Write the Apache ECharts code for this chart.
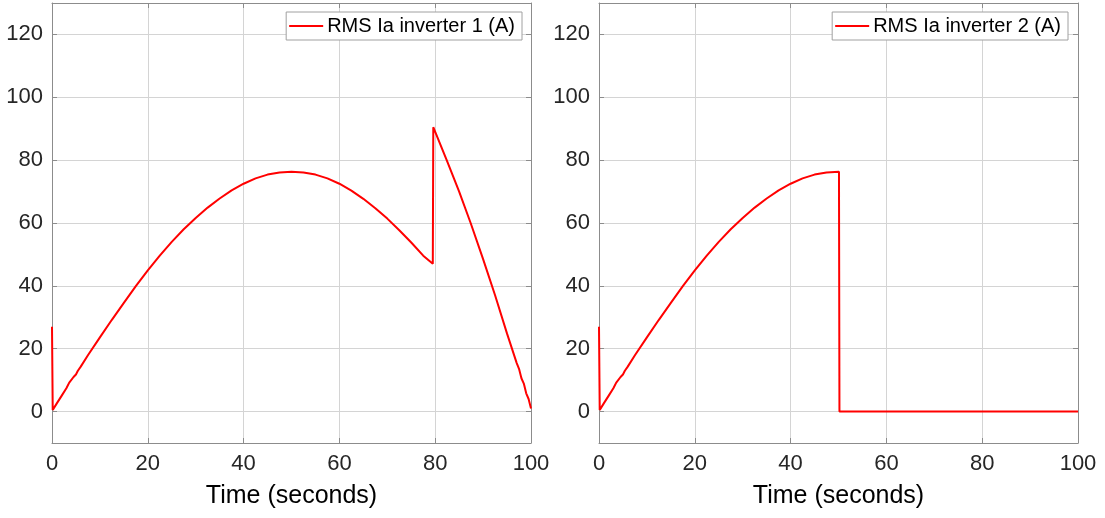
<!DOCTYPE html>
<html>
<head>
<meta charset="utf-8">
<script src="https://cdn.jsdelivr.net/npm/echarts@6/dist/echarts.min.js"></script>
<style>
html,body{margin:0;padding:0;background:#fff;}
#c{width:1105px;height:518px;}
</style>
</head>
<body>
<div id="c"></div>
<script>
// ---- data ----
var seriesNames = ['RMS Ia inverter 1 (A)', 'RMS Ia inverter 2 (A)'];
var xTitle = 'Time (seconds)';

var time1 = [0, 0.15, 1, 2, 3, 3.6, 4, 4.5, 5, 5.4, 6, 7.5, 10, 12.5, 15, 17.5, 20, 22.5, 25, 27.5, 30, 32.5, 35, 37.5, 40, 42.5, 45, 47.5, 50, 52.5, 55, 57.5, 60, 62.5, 65, 67.5, 70, 72.5, 75, 77.5, 79.5, 79.6, 82.4, 85, 87.4, 90, 92.5, 95, 97, 97.5, 98, 98.5, 99, 99.5, 100];
var ia1   = [27, 0.5, 2.6, 5.0, 7.4, 9.2, 9.6, 11.0, 11.8, 13.0, 14.3, 17.9, 23.6, 29.2, 34.6, 39.9, 44.9, 49.6, 54.0, 58.0, 61.6, 64.9, 67.8, 70.4, 72.5, 74.2, 75.4, 76.1, 76.3, 76.1, 75.4, 74.2, 72.5, 70.3, 67.7, 64.7, 61.4, 57.7, 53.8, 49.6, 47.0, 90.5, 80.0, 70.0, 60.0, 48.5, 37.0, 24.8, 15.5, 13.6, 10.6, 8.9, 5.8, 4.0, 1.0];

var time2 = [0, 0.15, 1, 2, 3, 3.6, 4, 4.5, 5, 5.4, 6, 7.5, 10, 12.5, 15, 17.5, 20, 22.5, 25, 27.5, 30, 32.5, 35, 37.5, 40, 42.5, 45, 47.5, 50.1, 50.2, 60, 70, 80, 90, 100];
var ia2   = [27, 0.5, 2.6, 5.0, 7.4, 9.2, 9.6, 11.0, 11.8, 13.0, 14.3, 17.9, 23.6, 29.2, 34.6, 39.9, 44.9, 49.6, 54.0, 58.0, 61.6, 64.9, 67.8, 70.4, 72.5, 74.2, 75.4, 76.1, 76.3, 0, 0, 0, 0, 0, 0];

var xMin = 0, xMax = 100, xStep = 20;
var yMin = -10, yMax = 130;

function pairs(xs, ys) { return xs.map(function (x, i) { return [x, ys[i]]; }); }

// ---- styles ----
var FONT = 'Liberation Sans, Arial, sans-serif';
var AX = '#8c8c8c', GRIDC = '#d4d4d4', TXT = '#262626';

function xAxisBottom(gi) {
  return {
    type: 'value', gridIndex: gi, position: 'bottom', min: xMin, max: xMax, interval: xStep,
    name: xTitle, nameLocation: 'middle', nameGap: 41,
    nameTextStyle: { fontFamily: FONT, fontSize: 25, color: '#000' },
    axisLine: { show: true, onZero: false, lineStyle: { color: AX, width: 1 } },
    axisTick: { show: true, inside: true, length: 5, lineStyle: { color: AX } },
    axisLabel: { fontFamily: FONT, fontSize: 22, color: TXT, margin: 10 },
    splitLine: { show: true, lineStyle: { color: GRIDC, width: 1 } }
  };
}
function xAxisTop(gi) {
  return {
    type: 'value', gridIndex: gi, position: 'top', min: xMin, max: xMax, interval: xStep,
    axisLine: { show: true, onZero: false, lineStyle: { color: AX, width: 1 } },
    axisTick: { show: true, inside: true, length: 5, lineStyle: { color: AX } },
    axisLabel: { show: false }, splitLine: { show: false }
  };
}
function yAxisLeft(gi) {
  return {
    type: 'value', gridIndex: gi, position: 'left', min: yMin, max: yMax, splitNumber: 7,
    axisLine: { show: true, onZero: false, lineStyle: { color: AX, width: 1 } },
    axisTick: { show: true, inside: true, length: 5, lineStyle: { color: AX } },
    axisLabel: {
      fontFamily: FONT, fontSize: 22, color: TXT, margin: 9,
      showMinLabel: false, showMaxLabel: false,
      formatter: function (v) { return (v % 20 === 0) ? String(v) : ''; }
    },
    splitLine: { show: true, lineStyle: { color: GRIDC, width: 1 } }
  };
}
function yAxisRight(gi) {
  return {
    type: 'value', gridIndex: gi, position: 'right', min: yMin, max: yMax, splitNumber: 7,
    axisLine: { show: true, onZero: false, lineStyle: { color: AX, width: 1 } },
    axisTick: { show: true, inside: true, length: 5, lineStyle: { color: AX } },
    axisLabel: { show: false }, splitLine: { show: false }
  };
}
function legendFor(name, right) {
  return {
    data: [{ name: name, icon: 'rect' }], right: right, top: 12, orient: 'horizontal',
    backgroundColor: '#fff', borderColor: '#a0a0a0', borderWidth: 1, borderRadius: 0,
    padding: [4, 7, 4, 3], itemWidth: 34, itemHeight: 2, itemGap: 4,
    itemStyle: { color: '#ff0000' },
    textStyle: { fontFamily: FONT, fontSize: 20, color: '#000', padding: [2, 0, 0, -1] }
  };
}
function lineSeries(name, data, gi) {
  return {
    name: name, type: 'line', data: data, xAxisIndex: gi * 2, yAxisIndex: gi * 2,
    symbol: 'none', showSymbol: false, smooth: false, animation: false,
    lineStyle: { color: '#ff0000', width: 2 }, itemStyle: { color: '#ff0000' }, z: 5
  };
}

var chart = echarts.init(document.getElementById('c'), null, { renderer: 'canvas' });
chart.setOption({
  backgroundColor: '#fff',
  animation: false,
  grid: [
    { left: 52, top: 3, width: 479, height: 440, containLabel: false },
    { left: 599, top: 3, width: 479, height: 440, containLabel: false }
  ],
  xAxis: [xAxisBottom(0), xAxisTop(0), xAxisBottom(1), xAxisTop(1)],
  yAxis: [yAxisLeft(0), yAxisRight(0), yAxisLeft(1), yAxisRight(1)],
  legend: [legendFor(seriesNames[0], 583), legendFor(seriesNames[1], 37)],
  series: [
    lineSeries(seriesNames[0], pairs(time1, ia1), 0),
    lineSeries(seriesNames[1], pairs(time2, ia2), 1)
  ]
});
</script>
</body>
</html>
